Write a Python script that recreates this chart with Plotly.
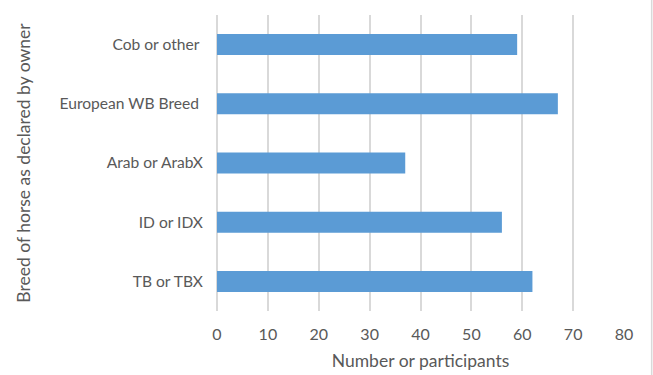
import plotly.graph_objects as go

categories = ["TB or TBX", "ID or IDX", "Arab or ArabX", "European WB Breed\u00a0", "Cob or other\u00a0"]
values = [62, 56, 37, 67, 59]
x_ticks = [0, 10, 20, 30, 40, 50, 60, 70, 80]

FONT = "Lato"
GRAY = "#595959"

fig = go.Figure(go.Bar(
    y=categories, x=values, orientation="h",
    marker=dict(color="#5b9bd5", line=dict(width=0)),
))

fig.update_layout(
    width=653, height=375,
    margin=dict(l=216.5, r=28.7, t=15, b=64),
    paper_bgcolor="white", plot_bgcolor="white",
    bargap=0.645,
    showlegend=False,
    font=dict(family=FONT, color=GRAY, size=16),
    xaxis=dict(
        range=[0, 80], tickvals=x_ticks, showgrid=True, gridcolor="#d9d9d9", gridwidth=1.5,
        zeroline=True, zerolinecolor="#d9d9d9", zerolinewidth=1.5, showline=False,
        ticklabelstandoff=12, tickfont=dict(size=16, color=GRAY),
        title=dict(text="Number or participants", font=dict(size=17.5, color=GRAY), standoff=12),
        automargin=False,
    ),
    yaxis=dict(
        showgrid=False, zeroline=False, showline=False,
        ticklabelstandoff=13, tickfont=dict(size=15.6, color=GRAY),
        title=dict(text="Breed of horse as declared by owner", font=dict(size=17.5, color=GRAY), standoff=24),
        automargin=False,
    ),
    shapes=[dict(type="line", xref="paper", yref="paper", x0=1.068, x1=1.068, y0=-0.3, y1=1.1,
                 line=dict(color="#d9d9d9", width=1.5))],
)

fig.write_html("out.html")
